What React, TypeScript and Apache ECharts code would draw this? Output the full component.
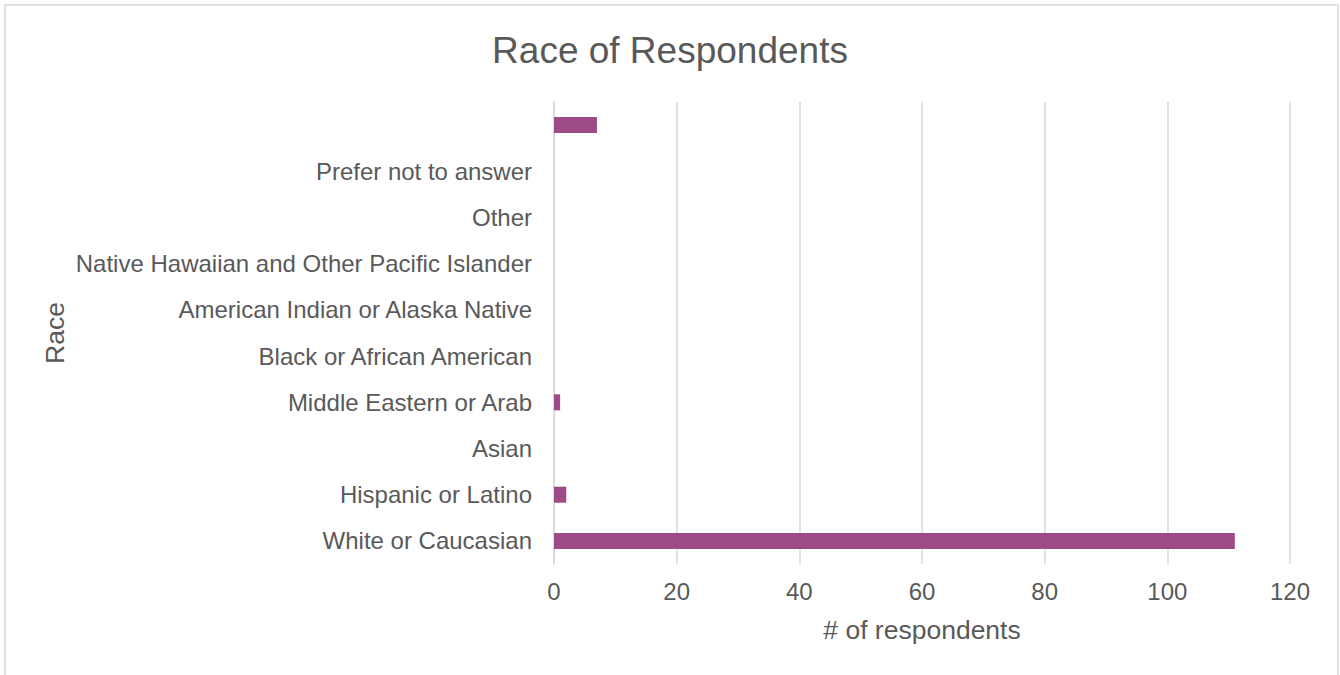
import React, { useEffect, useRef } from "react";
import * as echarts from "echarts";

const categories = [
  "White or Caucasian",
  "Hispanic or Latino",
  "Asian",
  "Middle Eastern or Arab",
  "Black or African American",
  "American Indian or Alaska Native",
  "Native Hawaiian and Other Pacific Islander",
  "Other",
  "Prefer not to answer",
  "",
];
const respondents = [111, 2, 0, 1, 0, 0, 0, 0, 0, 7];
const xTicks = { min: 0, max: 120, interval: 20 };

const TEXT = "#595959";
const GRID = "#d9d9d9";
const FONT = "'Liberation Sans', Arial, sans-serif";

export default function App() {
  const ref = useRef<HTMLDivElement>(null);
  useEffect(() => {
    document.body.style.margin = "0";
    const chart = echarts.init(ref.current!, null, { renderer: "svg" });
    chart.setOption({
      animation: false,
      textStyle: { fontFamily: FONT },
      title: {
        text: "Race of Respondents",
        left: "center",
        top: 27,
        textStyle: { fontSize: 37, fontWeight: "normal", color: TEXT, fontFamily: FONT },
      },
      graphic: [
        {
          type: "rect",
          shape: { x: 5, y: 5, width: 1333, height: 700 },
          style: { fill: "none", stroke: GRID, lineWidth: 1.5 },
          silent: true,
        },
        {
          type: "text",
          x: 55,
          y: 333,
          rotation: Math.PI / 2,
          style: {
            text: "Race",
            fontSize: 26.5,
            fill: TEXT,
            fontFamily: FONT,
            align: "center",
            verticalAlign: "middle",
          },
        },
      ],
      grid: { left: 554, right: 50, top: 102, bottom: 111, containLabel: false },
      xAxis: {
        type: "value",
        min: xTicks.min,
        max: xTicks.max,
        interval: xTicks.interval,
        name: "# of respondents",
        nameLocation: "middle",
        nameGap: 52,
        nameTextStyle: { fontSize: 26.5, color: TEXT, fontFamily: FONT },
        axisLine: { show: false },
        axisTick: { show: false },
        axisLabel: { fontSize: 24, color: TEXT, margin: 15, fontFamily: FONT },
        splitLine: { show: true, lineStyle: { color: GRID, width: 1.5 } },
      },
      yAxis: {
        type: "category",
        data: categories,
        axisLine: { show: true, lineStyle: { color: GRID, width: 1.5 } },
        axisTick: { show: false },
        axisLabel: { fontSize: 24, color: TEXT, margin: 22, fontFamily: FONT },
        splitLine: { show: false },
      },
      series: [
        {
          type: "bar",
          data: respondents,
          barWidth: 16,
          itemStyle: { color: "#9E4A84" },
        },
      ],
    });
    return () => chart.dispose();
  }, []);
  return <div ref={ref} style={{ width: 1340, height: 675 }} />;
}
